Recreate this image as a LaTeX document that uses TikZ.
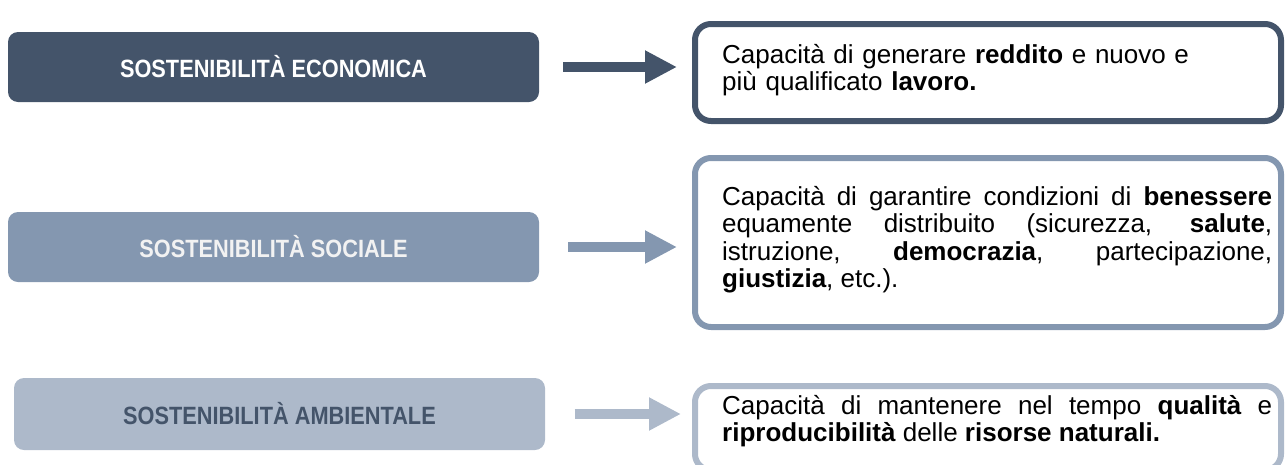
\documentclass[tikz,border=0pt]{standalone}
\usepackage{fontspec}
\setmainfont{Liberation Sans}
\newfontfamily\labelfont[FakeStretch=0.87]{Liberation Sans}
\usetikzlibrary{arrows.meta}
\definecolor{cA}{HTML}{44546A}
\definecolor{cB}{HTML}{8497B0}
\definecolor{cC}{HTML}{ADB9CA}
\definecolor{cBt}{HTML}{F2F2F2}
\hyphenpenalty=10000
\exhyphenpenalty=10000
\tolerance=9999
\begin{document}
\begin{tikzpicture}[x=1pt,y=-1pt,
  lbox/.style={rounded corners=10pt, minimum width=531pt, minimum height=70pt, inner sep=0pt,
    font=\labelfont\bfseries\fontsize{25}{30}\selectfont},
  rbox/.style={draw, line width=6pt, rounded corners=16pt, minimum width=586pt, inner sep=0pt},
  desc/.style={anchor=north west, inner sep=0pt, text width=550pt, align=justify,
    font=\fontsize{26}{27.5}\selectfont},
  barrow/.style={line width=10pt, -{Triangle[length=32pt,width=31pt]}},
]
\useasboundingbox (0,0) rectangle (1286,464);
\clip (0,0) rectangle (1286,464);

% left labels
\node[lbox, fill=cA, text=white] (b1) at (273.5,67) {SOSTENIBILITÀ ECONOMICA};
\node[lbox, fill=cB, text=cBt] (b2) at (273.5,247) {SOSTENIBILITÀ SOCIALE};
\node[lbox, fill=cC, text=cA, minimum height=72pt] (b3) at (279.5,414) {SOSTENIBILITÀ AMBIENTALE};

% right frames
\node[rbox, draw=cA, minimum height=97pt] (r1) at (988,72.5) {};
\node[rbox, draw=cB, minimum height=169pt] (r2) at (988,242.5) {};
\node[rbox, draw=cC, minimum height=84pt] (r3) at (988,428) {};

% texts
\node[desc, align=left] (t1) at (722,44) {Capacità di generare \textbf{reddito} e nuovo e\\più qualificato \textbf{lavoro.}};
\node[desc] (t2) at (722,186) {Capacità di garantire condizioni di \textbf{benessere} equamente distribuito (sicurezza, \textbf{salute}, istruzione, \textbf{democrazia}, partecipazione, \textbf{giustizia}, etc.).};
\node[desc] (t3) at (722,395) {Capacità di mantenere nel tempo \textbf{qualità} e \textbf{riproducibilità} delle \textbf{risorse naturali.}};

% arrows
\coordinate (e1) at (b1.east -| r1.west);
\coordinate (e2) at (b2.east -| r2.west);
\coordinate (e3) at (b3.east -| r3.west);
\draw[barrow, cA] ([xshift=24pt]b1.east) -- ([xshift=-15pt]e1);
\draw[barrow, cB] ([xshift=29pt]b2.east) -- ([xshift=-15pt]e2);
\draw[barrow, cC] ([xshift=29.5pt]b3.east) -- ([xshift=-11pt]e3);
\end{tikzpicture}
\end{document}
